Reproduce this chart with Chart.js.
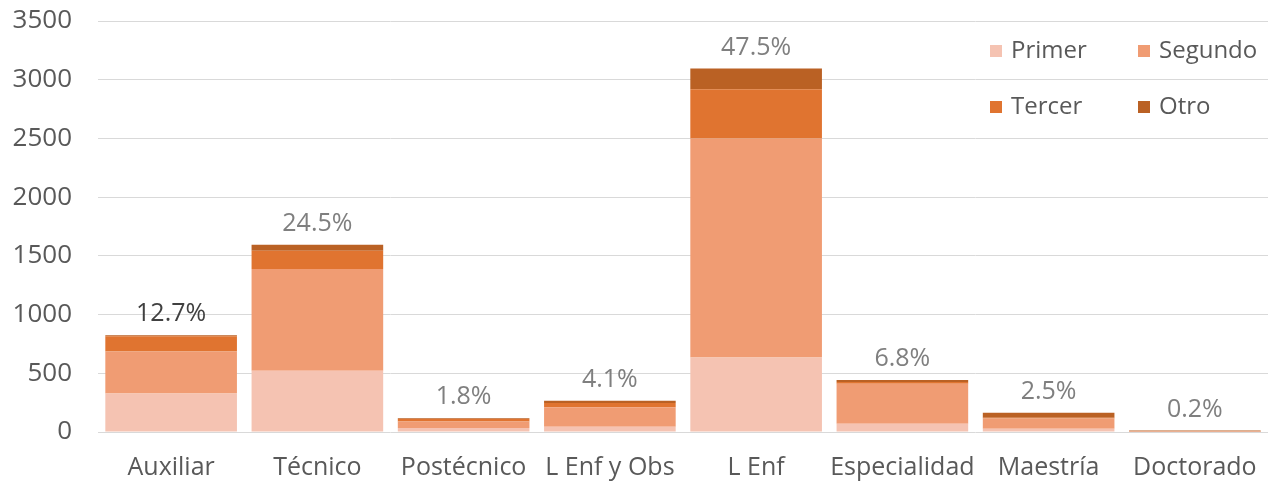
<!DOCTYPE html>
<html>
<head>
<meta charset="utf-8">
<script src="https://cdn.jsdelivr.net/npm/chart.js@4.4.1/dist/chart.umd.min.js"></script>
<style>
html,body{margin:0;padding:0;background:#fff;}
#wrap{width:1270px;height:483px;position:relative;}
</style>
</head>
<body>
<div id="wrap"><canvas id="c" width="1270" height="483"></canvas></div>
<script>
const categories = ["Auxiliar","Técnico","Postécnico","L Enf y Obs","L Enf","Especialidad","Maestría","Doctorado"];
const primer  = [327, 522, 35, 45, 634, 70, 28, 1];
const segundo = [358, 866, 55, 165, 1865, 340, 88, 1];
const tercer  = [130, 155, 20, 37, 420, 15, 5, 2];
const otro    = [8, 52, 7, 20, 176, 17, 42, 9];
const percentLabels = ["12.7%","24.5%","1.8%","4.1%","47.5%","6.8%","2.5%","0.2%"];
const yTicks = [0,500,1000,1500,2000,2500,3000,3500];

const FONT = "'Open Sans'";
const colors = {primer:"#F5C3B2", segundo:"#F09C73", tercer:"#E07430", otro:"#BA6124"};

const legend2x2 = {
  id:"legend2x2",
  afterDraw(chart){
    const ctx = chart.ctx, a = chart.chartArea;
    ctx.save();
    ctx.font = "24px " + FONT;
    ctx.textBaseline = "middle";
    ctx.textAlign = "left";
    chart.data.datasets.forEach((ds,i)=>{
      const col = i % 2, row = Math.floor(i/2);
      const x = a.right - 278 + col*148;
      const y = a.top + 30 + row*56;
      ctx.fillStyle = ds.backgroundColor;
      ctx.fillRect(x, y-6, 12, 12);
      ctx.fillStyle = "#595959";
      ctx.fillText(ds.label, x + 21, y);
    });
    ctx.restore();
  }
};

const pctPlugin = {
  id:"pct",
  afterDatasetsDraw(chart){
    const ctx = chart.ctx;
    const xs = chart.scales.x, ys = chart.scales.y;
    ctx.save();
    ctx.font = "25px " + FONT;
    ctx.textAlign = "center";
    ctx.textBaseline = "middle";
    categories.forEach((c,i)=>{
      const total = primer[i]+segundo[i]+tercer[i]+otro[i];
      const x = xs.getPixelForValue(i);
      const y = ys.getPixelForValue(total) - 21;
      ctx.fillStyle = i === 0 ? "#404040" : "#7F7F7F";
      ctx.fillText(percentLabels[i], x, y);
    });
    ctx.restore();
  }
};

new Chart(document.getElementById("c"), {
  type:"bar",
  data:{
    labels:categories,
    datasets:[
      {label:"Primer", data:primer, backgroundColor:colors.primer},
      {label:"Segundo", data:segundo, backgroundColor:colors.segundo},
      {label:"Tercer", data:tercer, backgroundColor:colors.tercer},
      {label:"Otro", data:otro, backgroundColor:colors.otro}
    ]
  },
  options:{
    responsive:false,
    animation:false,
    devicePixelRatio:1,
    layout:{padding:{top:0,right:2,left:0,bottom:0}},
    datasets:{bar:{categoryPercentage:0.9,barPercentage:1.0,borderWidth:0}},
    plugins:{legend:{display:false},tooltip:{enabled:false}},
    scales:{
      x:{
        stacked:true,
        grid:{display:false,drawTicks:false},
        border:{display:false},
        ticks:{color:"#595959",font:{family:FONT,size:25},padding:21,maxRotation:0,autoSkip:false},
        afterFit(s){ s.height = 51; s.paddingLeft = 0; s.paddingRight = 0; }
      },
      y:{
        stacked:true,
        min:0,max:3500,
        afterBuildTicks(s){ s.ticks = yTicks.map(v=>({value:v})); },
        grid:{color:"#D9D9D9",lineWidth:1,drawTicks:false},
        border:{display:false},
        ticks:{color:"#595959",font:{family:FONT,size:26},padding:26,callback:(v)=>String(v)},
        afterFit(s){ s.width = 98; s.paddingTop = 21; s.paddingBottom = 10; }
      }
    }
  },
  plugins:[legend2x2,pctPlugin]
});
</script>
</body>
</html>
